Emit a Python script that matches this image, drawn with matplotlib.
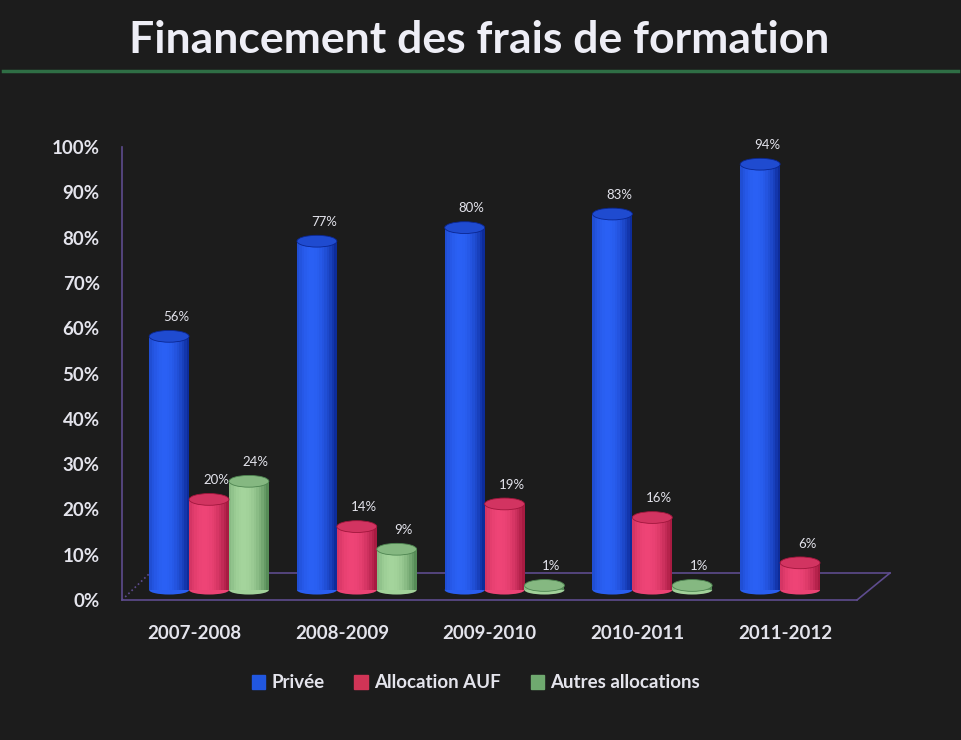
import numpy as np
import matplotlib
matplotlib.use("Agg")
import matplotlib.pyplot as plt
import matplotlib.transforms as mtransforms
from matplotlib.patches import Ellipse, Patch
from matplotlib.colors import to_rgb

# ── Data ──────
years = ["2007-2008", "2008-2009", "2009-2010", "2010-2011", "2011-2012"]
privee = [56, 77, 80, 83, 94]
alloc_auf = [20, 14, 19, 16, 6]
autres = [24, 9, 1, 1, None]   # nothing shown for 2011-2012

series_names = ["Privée", "Allocation AUF", "Autres allocations"]
series_vals = [privee, alloc_auf, autres]
dark_cols = ["#0a2690", "#a0163c", "#4d8450"]
light_cols = ["#2a60f4", "#ee4476", "#a4d49c"]
legend_cols = ["#2157e0", "#d03456", "#6fa96f"]

BG = "#1c1c1c"
TXT = "#e4e4ec"
AXC = "#5e4c8e"
W, H = 962, 740

plt.rcParams['font.family'] = ['Lato', 'DejaVu Sans']

fig = plt.figure(figsize=(W / 100, H / 100), dpi=100, facecolor=BG)
ax = fig.add_axes([122 / W, 1 - 600 / H, (888 - 122) / W, (600 - 147) / H])
ax.set_facecolor(BG)

ax.set_xlim(-0.589, 4.595)
ax.set_ylim(0, 100)

# bars sit slightly back on the 3D floor
tr = ax.transData + mtransforms.ScaledTranslation(0, 10 / 100, fig.dpi_scale_trans)

bw = 0.27
nslice = 16
x = np.arange(len(years))


def shade(c1, c2, t):
    a, b = np.array(to_rgb(c1)), np.array(to_rgb(c2))
    w = 1 - ((t - 0.38) / 0.62) ** 2
    w = np.clip(w, 0, 1)
    return tuple(a + (b - a) * w)


for k, (vals, dc, lc) in enumerate(zip(series_vals, dark_cols, light_cols)):
    off = (k - 1) * bw
    for i, v in enumerate(vals):
        if v is None:
            continue
        xc = x[i] + off
        # cylinder body as thin slices for the round shading
        for s in range(nslice):
            t = (s + 0.5) / nslice
            xs = xc - bw / 2 + t * bw
            ax.bar(xs, v, width=bw / nslice * 1.02, color=shade(dc, lc, t),
                   linewidth=0, transform=tr, zorder=3)
        ax.add_patch(Ellipse((xc, 0), bw, 2.0, color=shade(dc, lc, 0.5),
                             transform=tr, zorder=2.9, linewidth=0))
        top = shade(dc, lc, 0.75)
        ax.add_patch(Ellipse((xc, v), bw, 2.6, facecolor=top,
                             edgecolor=dc, linewidth=0.6, transform=tr, zorder=4))
        ax.annotate(f"{v}%", (xc, v), xytext=(5, 21), textcoords="offset points",
                    ha="center", va="center", fontsize=9.5, color=TXT,
                    zorder=5)

# 3D floor outline
def px(xp, yp):
    return xp / W, 1 - yp / H

for (x0, y0), (x1, y1), ls in [((122, 600), (857, 600), "-"),
                               ((150, 573), (890, 573), "-"),
                               ((857, 600), (890, 573), "-"),
                               ((122, 600), (150, 573), ":")]:
    a, b = px(x0, y0), px(x1, y1)
    ax.plot([a[0], b[0]], [a[1], b[1]], color=AXC, lw=1.2, ls=ls,
            transform=fig.transFigure, clip_on=False, zorder=1)

for sp in ["top", "right", "bottom"]:
    ax.spines[sp].set_visible(False)
ax.spines["left"].set_color(AXC)
ax.spines["left"].set_linewidth(1.2)

ax.set_yticks(range(0, 101, 10))
ax.set_yticklabels([f"{t}%" for t in range(0, 101, 10)])
ax.set_xticks(x - 0.1)
ax.set_xticklabels(years)
ax.tick_params(axis="y", length=0, pad=16, labelsize=13.5, labelcolor=TXT)
ax.tick_params(axis="x", length=0, pad=18, labelsize=13.5, labelcolor=TXT)
for lab in ax.get_xticklabels() + ax.get_yticklabels():
    lab.set_fontweight("bold")

# title + rule
fig.text(479 / W, 1 - 40 / H, "Financement des frais de formation",
         ha="center", va="center", fontsize=32, fontweight="bold", color="#eeeef6")
fig.add_artist(plt.Line2D([3 / W, 958 / W], [1 - 71 / H, 1 - 71 / H],
                          color="#2f6e45", lw=2.5, transform=fig.transFigure))

handles = [Patch(color=c) for c in legend_cols]
fig.legend(handles, series_names, loc="center", bbox_to_anchor=(476 / W, 1 - 683 / H),
           ncol=3, frameon=False, handlelength=0.7, handleheight=0.7,
           handletextpad=0.35, columnspacing=1.6, labelcolor=TXT,
           prop={"size": 13.5, "weight": "bold"})

fig.savefig("out.png", dpi=100, facecolor=BG)
